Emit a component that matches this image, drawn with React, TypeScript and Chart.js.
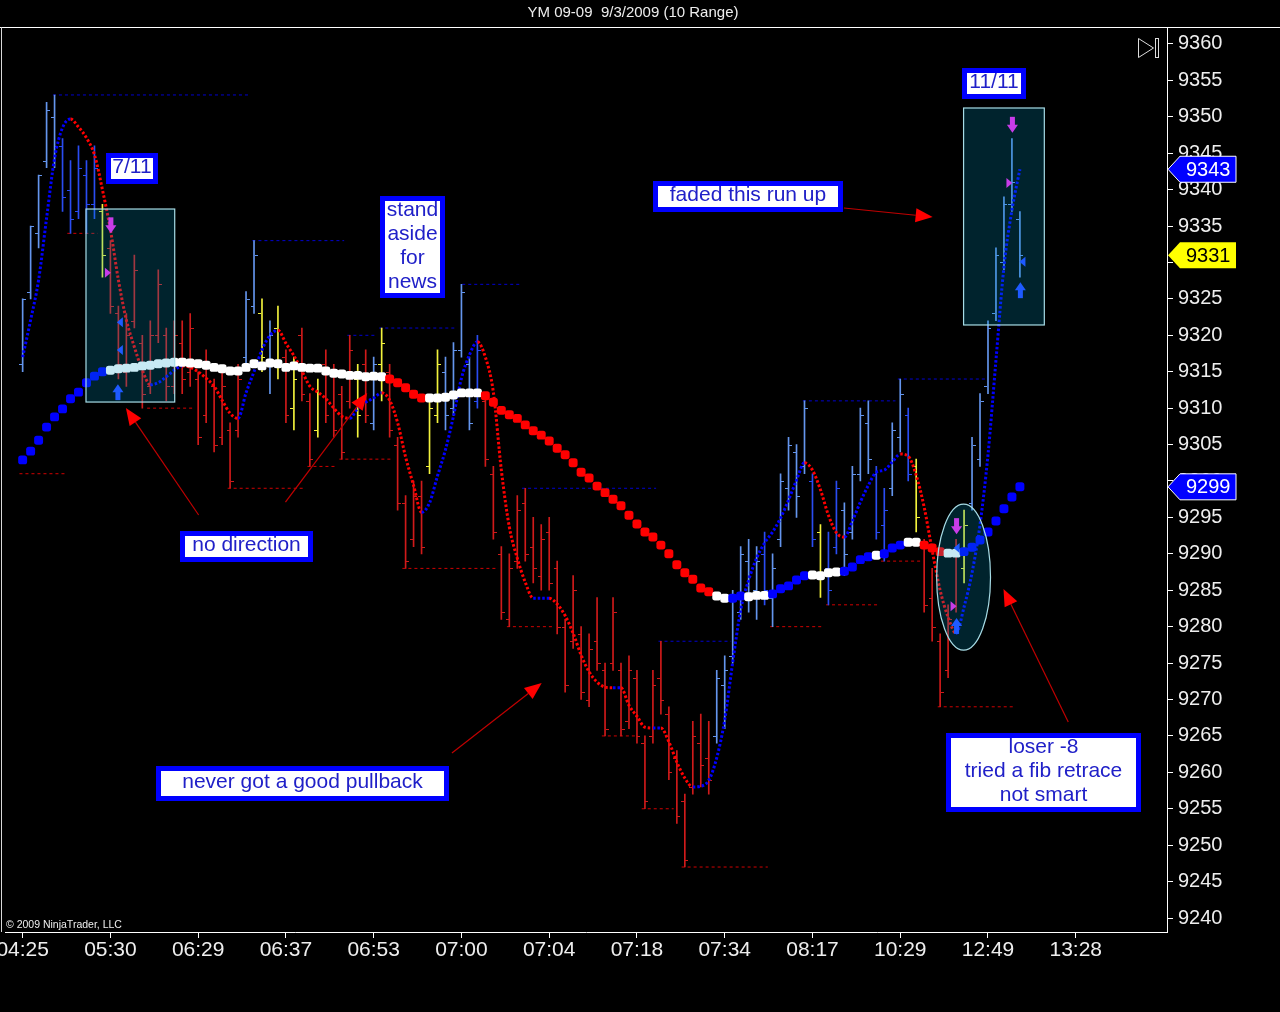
import React, { useEffect, useRef } from 'react';
import { Chart, registerables } from 'chart.js';

Chart.register(...registerables);

const FONT = '"Liberation Sans", Arial, sans-serif';
const chartTitle = 'YM 09-09  9/3/2009 (10 Range)';
const copyright = '\u00A9 2009 NinjaTrader, LLC';

// ---------- axes ----------
const xTickBars = [0, 11, 22, 33, 44, 55, 66, 77, 88, 99, 110, 121, 132];
const xTickLabels = ['04:25', '05:30', '06:29', '06:37', '06:53', '07:00', '07:04', '07:18', '07:34', '08:17', '10:29', '12:49', '13:28'];
const yTickValues = [9240, 9245, 9250, 9255, 9260, 9265, 9270, 9275, 9280, 9285, 9290, 9295, 9300, 9305, 9310, 9315, 9320, 9325, 9330, 9335, 9340, 9345, 9350, 9355, 9360];

// ---------- range bars (10 range) ----------
const barHigh = [
  9325, 9335, 9342, 9352, 9353, 9347, 9344, 9346, 9344, 9346,
  9338, 9333, 9324, 9323, 9331, 9320, 9322, 9329, 9321, 9322,
  9322, 9323, 9315, 9318, 9314, 9315, 9308, 9316, 9326, 9333,
  9325, 9322, 9324, 9318, 9317, 9321, 9312, 9314, 9318, 9316,
  9313, 9320, 9316, 9318, 9317, 9321, 9316, 9306, 9298, 9300,
  9300, 9311, 9318, 9317, 9319, 9327, 9317, 9320, 9312, 9302,
  9291, 9290, 9298, 9299, 9295, 9294, 9295, 9289, 9281, 9287,
  9280, 9279, 9284, 9275, 9284, 9275, 9276, 9274, 9265, 9274,
  9278, 9269, 9263, 9257, 9267, 9268, 9267, 9274, 9276, 9285,
  9291, 9292, 9291, 9293, 9290, 9301, 9306, 9305, 9311, 9301,
  9294, 9293, 9300, 9297, 9302, 9310, 9311, 9302, 9299, 9308,
  9314, 9310, 9303, 9292, 9288, 9279, 9283, 9292, 9296, 9306,
  9312, 9322, 9332, 9339, 9347, 9337,
];
const barLow = [
  9315, 9325, 9332, 9343, 9343, 9337, 9334, 9336, 9334, 9336,
  9328, 9323, 9314, 9313, 9321, 9310, 9312, 9319, 9311, 9312,
  9312, 9313, 9305, 9308, 9304, 9305, 9299, 9306, 9316, 9323,
  9315, 9312, 9314, 9308, 9307, 9311, 9302, 9306, 9308, 9306,
  9303, 9310, 9306, 9308, 9307, 9311, 9306, 9296, 9288, 9291,
  9290, 9301, 9308, 9307, 9309, 9317, 9307, 9310, 9302, 9292,
  9281, 9280, 9288, 9289, 9286, 9285, 9285, 9279, 9271, 9277,
  9270, 9269, 9274, 9265, 9274, 9265, 9266, 9264, 9255, 9264,
  9268, 9259, 9253, 9247, 9257, 9258, 9257, 9264, 9266, 9275,
  9281, 9282, 9281, 9283, 9280, 9291, 9296, 9295, 9301, 9291,
  9284, 9283, 9290, 9287, 9292, 9300, 9301, 9292, 9289, 9298,
  9304, 9300, 9293, 9282, 9278, 9269, 9273, 9282, 9286, 9296,
  9302, 9312, 9322, 9329, 9337, 9328,
];
const barOpen = [
  9316, 9326, 9334, 9344, 9350, 9346, 9340, 9337, 9342, 9338,
  9337, 9332, 9323, 9315, 9322, 9319, 9313, 9320, 9320, 9313,
  9319, 9315, 9314, 9309, 9313, 9306, 9307, 9307, 9317, 9324,
  9323, 9316, 9321, 9317, 9310, 9320, 9311, 9307, 9316, 9315,
  9312, 9311, 9314, 9316, 9308, 9316, 9315, 9305, 9297, 9292,
  9298, 9302, 9309, 9315, 9310, 9318, 9316, 9311, 9311, 9301,
  9290, 9281, 9289, 9297, 9291, 9287, 9293, 9288, 9280, 9278,
  9279, 9270, 9278, 9274, 9275, 9274, 9267, 9273, 9264, 9265,
  9273, 9268, 9262, 9256, 9258, 9264, 9262, 9265, 9272, 9276,
  9282, 9289, 9285, 9290, 9284, 9292, 9299, 9304, 9302, 9300,
  9293, 9288, 9291, 9296, 9293, 9301, 9308, 9301, 9294, 9299,
  9306, 9309, 9302, 9291, 9284, 9278, 9274, 9283, 9288, 9297,
  9303, 9313, 9323, 9330, 9338, 9336,
];
const barClose = [
  9325, 9335, 9342, 9351, 9346, 9339, 9336, 9343, 9338, 9343,
  9331, 9324, 9316, 9320, 9329, 9312, 9320, 9327, 9313, 9320,
  9314, 9321, 9306, 9316, 9305, 9313, 9300, 9314, 9325, 9331,
  9317, 9320, 9316, 9309, 9314, 9312, 9303, 9312, 9309, 9307,
  9304, 9318, 9309, 9309, 9316, 9319, 9307, 9297, 9289, 9298,
  9291, 9310, 9316, 9309, 9318, 9326, 9308, 9318, 9303, 9293,
  9282, 9288, 9296, 9290, 9288, 9292, 9286, 9280, 9272, 9285,
  9271, 9277, 9275, 9266, 9282, 9266, 9274, 9265, 9256, 9272,
  9270, 9260, 9254, 9248, 9265, 9261, 9259, 9273, 9274, 9284,
  9290, 9284, 9289, 9285, 9288, 9300, 9305, 9298, 9310, 9292,
  9287, 9285, 9299, 9290, 9301, 9309, 9303, 9293, 9296, 9307,
  9312, 9301, 9295, 9283, 9280, 9271, 9281, 9290, 9294, 9305,
  9311, 9321, 9331, 9338, 9341, 9331,
];
// L = light blue, D = blue, R = red, Y = yellow
const barColorCodes = (
  'LLLLL' + 'DDDDD' + 'Y' + 'RRRRRRRRRRRRRRRRR' + 'LL' + 'Y' + 'L' + 'Y' + 'R' + 'Y' + 'RR' + 'Y' +
  'RRRR' + 'Y' + 'R' + 'L' + 'Y' + 'RRRRR' + 'YY' + 'LLLL' + 'D' + 'RRRRRRRRRRRRRRRRRRRRRRRRRRRRR' +
  'LLLLLL' + 'D' + 'LLLLL' + 'D' + 'Y' + 'DD' + 'LLLL' + 'DD' + 'LL' + 'D' + 'Y' + 'RRRRR' + 'Y' + 'LLLLLLL'
).split('');

// ---------- fast (dotted) average ----------
const fastMA = [
  9317.0, 9322.1, 9327.6, 9336.1, 9344.3, 9348.5, 9349.7, 9348.6, 9347.1, 9344.8,
  9340.0, 9334.5, 9327.6, 9322.1, 9318.4, 9315.2, 9313.2, 9313.5, 9314.3, 9315.2,
  9315.8, 9315.6, 9315.0, 9314.1, 9313.0, 9311.1, 9309.3, 9308.6, 9312.1, 9315.0,
  9318.0, 9320.0, 9320.7, 9318.9, 9317.2, 9315.1, 9313.0, 9312.2, 9311.3, 9310.0,
  9308.9, 9308.6, 9310.0, 9310.8, 9311.4, 9312.1, 9311.1, 9308.0, 9303.3, 9299.4,
  9295.7, 9297.0, 9300.7, 9304.3, 9308.9, 9314.1, 9317.3, 9319.1, 9317.0, 9312.2,
  9301.5, 9293.7, 9289.4, 9286.1, 9283.9, 9283.9, 9283.9, 9283.1, 9281.5, 9279.1,
  9276.1, 9273.8, 9272.4, 9271.7, 9271.6, 9271.6, 9269.2, 9267.7, 9266.2, 9266.1,
  9266.1, 9264.2, 9261.4, 9259.2, 9258.0, 9258.1, 9258.9, 9262.0, 9267.2, 9275.1,
  9282.3, 9286.4, 9289.4, 9291.5, 9293.0, 9294.9, 9297.4, 9300.1, 9302.5, 9301.5,
  9298.8, 9295.3, 9292.9, 9292.3, 9294.5, 9297.1, 9299.4, 9301.2, 9301.5, 9302.6,
  9303.7, 9303.4, 9300.8, 9296.4, 9290.5, 9285.0, 9281.3, 9279.1, 9282.7, 9287.4,
  9294.0, 9303.6, 9316.6, 9329.4, 9337.2, 9342.8,
];

// ---------- slow (big dots) average ----------
const slowMA = [
  9302.9, 9304.1, 9305.6, 9307.4, 9308.8, 9309.9, 9311.3, 9312.2, 9313.5, 9314.4,
  9315.0, 9315.2, 9315.4, 9315.5, 9315.6, 9315.8, 9315.9, 9316.1, 9316.2, 9316.3,
  9316.3, 9316.2, 9316.1, 9315.9, 9315.6, 9315.4, 9315.1, 9315.1, 9315.6, 9316.1,
  9315.8, 9316.2, 9316.1, 9315.6, 9315.8, 9315.6, 9315.5, 9315.5, 9315.1, 9314.8,
  9314.7, 9314.5, 9314.5, 9314.3, 9314.4, 9314.3, 9314.0, 9313.5, 9312.8, 9311.9,
  9311.4, 9311.4, 9311.4, 9311.5, 9311.8, 9312.1, 9312.1, 9312.1, 9311.7, 9310.8,
  9309.7, 9309.1, 9308.6, 9307.7, 9306.9, 9306.3, 9305.5, 9304.5, 9303.6, 9302.5,
  9301.2, 9300.4, 9299.3, 9298.4, 9297.5, 9296.6, 9295.3, 9294.1, 9293.0, 9292.3,
  9291.2, 9290.0, 9288.5, 9287.4, 9286.5, 9285.3, 9284.8, 9284.2, 9283.9, 9283.9,
  9284.2, 9284.1, 9284.3, 9284.3, 9284.5, 9285.2, 9285.6, 9286.4, 9287.0, 9287.1,
  9287.0, 9287.4, 9287.5, 9287.6, 9288.2, 9289.2, 9289.6, 9289.8, 9290.0, 9290.8,
  9291.2, 9291.6, 9291.6, 9291.2, 9290.8, 9290.3, 9290.1, 9290.1, 9290.3, 9290.9,
  9291.9, 9293.0, 9294.5, 9296.2, 9297.8, 9299.2,
];
// B = blue, W = white, R = red
const slowColorCodes = (
  'BBBBBBBBBBB' + 'WWWWWWWWWWWWWWWWWWWWWWWWWWWWWWWWWWW' + 'RRRRR' + 'WWWWWWW' +
  'RRRRRRRRRRRRRRRRRRRRRRRRRRRRR' + 'WW' + 'BB' + 'WWW' + 'BBBBB' + 'WWWW' + 'BBBB' + 'W' + 'BBB' +
  'WW' + 'RRR' + 'WW' + 'BBBBBBBB'
).split('');

// ---------- swing high / low lines: [fromBar, toBar, price] ----------
const swingHighs = [
  [3.8, 28.4, 9353], [28.8, 40.3, 9333], [40.7, 44.4, 9320], [44.7, 54.4, 9321],
  [55.1, 62.4, 9327], [62.6, 79.4, 9299], [79.7, 88.8, 9278], [97.8, 109.4, 9311],
  [109.7, 120.7, 9314],
];
const swingLows = [
  [-0.4, 5.3, 9301], [5.6, 9.4, 9334], [15.6, 21.6, 9310], [25.7, 35.4, 9299],
  [35.7, 39.4, 9302], [39.7, 46.4, 9303], [47.6, 59.4, 9288], [60.7, 66.4, 9280],
  [72.6, 76.9, 9265], [77.6, 81.6, 9255], [82.6, 93.4, 9247], [93.7, 100.4, 9280],
  [100.7, 107.4, 9283], [107.6, 112.6, 9289], [114.7, 124.4, 9269],
];

// ---------- trade markers: [bar, price] ----------
const shortArrows = [[11.06, 9335.1], [124.06, 9348.9], [117.06, 9293.8]];
const entryMarks = [[10.56, 9328.6], [123.56, 9340.9], [116.56, 9282.8]];
const exitMarks = [[12.31, 9321.8], [12.31, 9318.0], [125.44, 9330.1], [117.19, 9290.8]];
const longArrows = [[11.94, 9312.2], [125.06, 9326.2], [117.06, 9280.1]];

// ---------- drawn objects (anchored in bar / price space) ----------
const tradeRects = [
  { b0: 7.94, b1: 19.06, p0: 9337.34, p1: 9310.84 },
  { b0: 117.94, b1: 128.06, p0: 9351.21, p1: 9321.42 },
];
const tradeEllipse = { b: 117.94, p: 9286.8, rb: 3.375, rp: 10.02 };
const noteBoxes = [
  { lines: ['7/11'], b: 13.69, p: 9342.97, w: 52, h: 31 },
  { lines: ['stand', 'aside', 'for', 'news'], b: 48.88, p: 9332.13, w: 65, h: 102 },
  { lines: ['faded this run up'], b: 90.94, p: 9339.06, w: 190, h: 31 },
  { lines: ['11/11'], b: 121.81, p: 9354.51, w: 64, h: 31 },
  { lines: ['no direction'], b: 28.0, p: 9291.07, w: 133, h: 31 },
  { lines: ['never got a good pullback'], b: 35.06, p: 9258.53, w: 293, h: 35 },
  { lines: ['loser -8', 'tried a fib retrace', 'not smart'], b: 127.94, p: 9260.04, w: 195, h: 79 },
];
const redArrows = [
  { from: [22.06, 9295.33], to: [12.94, 9310.02] },
  { from: [32.94, 9297.11], to: [43.19, 9312.08] },
  { from: [53.81, 9262.65], to: [65.06, 9272.26] },
  { from: [102.94, 9337.48], to: [114.06, 9336.25] },
  { from: [131.06, 9266.91], to: [122.94, 9285.17] },
];

const BAR_COLORS: any = { L: '#6495ED', D: '#2A4CF2', R: '#D01A1A', Y: '#F2F23C' };
const SLOW_COLORS: any = { B: '#0000FF', W: '#FFFFFF', R: '#FF0000' };

function lineData(list: number[][]) {
  const out: any[] = [];
  list.forEach(([a, b, p]) => {
    out.push({ x: a, y: p }, { x: b, y: p }, { x: b, y: null });
  });
  return out;
}

const overlayPlugin = {
  id: 'ntOverlay',
  afterDatasetDraw(chart: any, args: any) {
    if (args.meta.type !== 'bar') return;
    const { ctx } = chart;
    const x = chart.scales.x;
    const y = chart.scales.y;
    ctx.save();
    for (let i = 0; i < barHigh.length; i++) {
      const px = Math.floor(x.getPixelForValue(i));
      ctx.fillStyle = BAR_COLORS[barColorCodes[i]];
      ctx.fillRect(px - 3, Math.round(y.getPixelForValue(barOpen[i])), 3, 1);
      ctx.fillRect(px + 1, Math.round(y.getPixelForValue(barClose[i])), 3, 1);
    }
    ctx.restore();
  },
  afterDatasetsDraw(chart: any) {
    const { ctx } = chart;
    const x = chart.scales.x;
    const y = chart.scales.y;
    const P = (b: number, p: number) => [x.getPixelForValue(b), y.getPixelForValue(p)];
    ctx.save();

    // trade rectangles + ellipse
    ctx.fillStyle = 'rgba(0,160,205,0.22)';
    ctx.strokeStyle = '#A6DCE6';
    ctx.lineWidth = 1.2;
    tradeRects.forEach((r) => {
      const [x0, y0] = P(r.b0, r.p0);
      const [x1, y1] = P(r.b1, r.p1);
      ctx.fillRect(x0, y0, x1 - x0, y1 - y0);
      ctx.strokeRect(x0, y0, x1 - x0, y1 - y0);
    });
    {
      const [cx, cy] = P(tradeEllipse.b, tradeEllipse.p);
      const rx = x.getPixelForValue(tradeEllipse.b + tradeEllipse.rb) - cx;
      const ry = cy - y.getPixelForValue(tradeEllipse.p + tradeEllipse.rp);
      ctx.beginPath();
      ctx.ellipse(cx, cy, rx, ry, 0, 0, Math.PI * 2);
      ctx.fill();
      ctx.stroke();
    }

    // trade markers
    const MAG = '#C83CE8';
    const BLU = '#1E5AFF';
    shortArrows.forEach(([b, p]) => {
      const [cx, cy] = P(b, p);
      ctx.fillStyle = MAG;
      ctx.fillRect(cx - 2.5, cy - 8, 5, 9);
      ctx.beginPath();
      ctx.moveTo(cx - 5.5, cy);
      ctx.lineTo(cx + 5.5, cy);
      ctx.lineTo(cx, cy + 8);
      ctx.closePath();
      ctx.fill();
    });
    longArrows.forEach(([b, p]) => {
      const [cx, cy] = P(b, p);
      ctx.fillStyle = BLU;
      ctx.fillRect(cx - 2.5, cy - 1, 5, 9);
      ctx.beginPath();
      ctx.moveTo(cx - 5.5, cy);
      ctx.lineTo(cx + 5.5, cy);
      ctx.lineTo(cx, cy - 8);
      ctx.closePath();
      ctx.fill();
    });
    entryMarks.forEach(([b, p]) => {
      const [cx, cy] = P(b, p);
      ctx.fillStyle = MAG;
      ctx.beginPath();
      ctx.moveTo(cx - 2, cy - 5);
      ctx.lineTo(cx + 4, cy);
      ctx.lineTo(cx - 2, cy + 5);
      ctx.closePath();
      ctx.fill();
    });
    exitMarks.forEach(([b, p]) => {
      const [cx, cy] = P(b, p);
      ctx.fillStyle = BLU;
      ctx.beginPath();
      ctx.moveTo(cx + 2, cy - 5);
      ctx.lineTo(cx - 4, cy);
      ctx.lineTo(cx + 2, cy + 5);
      ctx.closePath();
      ctx.fill();
    });

    // red arrows
    redArrows.forEach((a) => {
      const [x0, y0] = P(a.from[0], a.from[1]);
      const [x1, y1] = P(a.to[0], a.to[1]);
      const ang = Math.atan2(y1 - y0, x1 - x0);
      const hl = 17;
      const hw = 7;
      const bx = x1 - Math.cos(ang) * hl;
      const by = y1 - Math.sin(ang) * hl;
      ctx.strokeStyle = '#C00000';
      ctx.lineWidth = 1.2;
      ctx.beginPath();
      ctx.moveTo(x0, y0);
      ctx.lineTo(bx, by);
      ctx.stroke();
      ctx.fillStyle = '#FF0000';
      ctx.beginPath();
      ctx.moveTo(x1, y1);
      ctx.lineTo(bx + Math.sin(ang) * hw, by - Math.cos(ang) * hw);
      ctx.lineTo(bx - Math.sin(ang) * hw, by + Math.cos(ang) * hw);
      ctx.closePath();
      ctx.fill();
    });

    // text boxes
    ctx.font = '21px ' + FONT;
    ctx.textAlign = 'center';
    ctx.textBaseline = 'middle';
    noteBoxes.forEach((n) => {
      const [cx, cy] = P(n.b, n.p);
      const left = Math.round(cx - n.w / 2);
      const top = Math.round(cy - n.h / 2);
      ctx.fillStyle = '#0000FF';
      ctx.fillRect(left, top, n.w, n.h);
      ctx.fillStyle = '#FFFFFF';
      ctx.fillRect(left + 5, top + 5, n.w - 10, n.h - 10);
      ctx.fillStyle = '#2020C8';
      const lh = 24;
      n.lines.forEach((t, k) => {
        ctx.fillText(t, left + n.w / 2, top + n.h / 2 + (k - (n.lines.length - 1) / 2) * lh - 1);
      });
    });

    // copyright
    ctx.font = '10.5px ' + FONT;
    ctx.textAlign = 'left';
    ctx.fillStyle = '#EEEEEE';
    ctx.fillText(copyright, 6, chart.chartArea.bottom - 7);
    ctx.restore();
  },
  afterDraw(chart: any) {
    const { ctx, chartArea } = chart;
    const y = chart.scales.y;
    ctx.save();
    // frame
    ctx.fillStyle = '#FFFFFF';
    ctx.fillRect(0, chartArea.top, chart.width, 1);
    ctx.fillStyle = '#D8D8D8';
    ctx.fillRect(1, chartArea.top, 1, chartArea.bottom - chartArea.top);
    // title
    ctx.fillStyle = '#EEEEEE';
    ctx.font = '15px ' + FONT;
    ctx.textAlign = 'center';
    ctx.textBaseline = 'middle';
    ctx.fillText(chartTitle, 633, 13);
    // scroll icon
    const ix = chartArea.right - 29;
    const iy = chartArea.top + 10;
    ctx.strokeStyle = '#DDDDDD';
    ctx.lineWidth = 1;
    ctx.beginPath();
    ctx.moveTo(ix + 0.5, iy + 1.5);
    ctx.lineTo(ix + 15.5, iy + 11);
    ctx.lineTo(ix + 0.5, iy + 20.5);
    ctx.closePath();
    ctx.stroke();
    ctx.strokeRect(ix + 17.5, iy + 1.5, 3, 19);
    // price markers on axis
    const marks = [
      { v: fastMA[fastMA.length - 1], bg: '#0000FF', fg: '#FFFFFF', bd: '#FFFFFF' },
      { v: barClose[barClose.length - 1], bg: '#FFFF00', fg: '#000000', bd: null },
      { v: slowMA[slowMA.length - 1], bg: '#0000FF', fg: '#FFFFFF', bd: '#FFFFFF' },
    ];
    ctx.font = '20px ' + FONT;
    ctx.textAlign = 'left';
    marks.forEach((m) => {
      const yy = y.getPixelForValue(m.v);
      const xl = chartArea.right + 1;
      ctx.beginPath();
      ctx.moveTo(xl, yy);
      ctx.lineTo(xl + 12, yy - 13);
      ctx.lineTo(xl + 68, yy - 13);
      ctx.lineTo(xl + 68, yy + 13);
      ctx.lineTo(xl + 12, yy + 13);
      ctx.closePath();
      ctx.fillStyle = m.bg;
      ctx.fill();
      if (m.bd) {
        ctx.strokeStyle = m.bd;
        ctx.lineWidth = 1;
        ctx.stroke();
      }
      ctx.fillStyle = m.fg;
      ctx.fillText(String(Math.round(m.v)), xl + 18, yy + 1);
    });
    ctx.restore();
  },
};

export default function App() {
  const ref = useRef<HTMLCanvasElement | null>(null);
  useEffect(() => {
    if (!ref.current) return;
    const chart = new Chart(ref.current, {
      type: 'bar',
      data: {
        datasets: [
          {
            type: 'line',
            data: lineData(swingHighs),
            borderColor: '#0000D0',
            borderWidth: 1,
            borderDash: [3, 3],
            pointRadius: 0,
            order: 4,
          },
          {
            type: 'line',
            data: lineData(swingLows),
            borderColor: '#D00000',
            borderWidth: 1,
            borderDash: [3, 3],
            pointRadius: 0,
            order: 3,
          },
          {
            type: 'bar',
            data: barHigh.map((h, i) => ({ x: i, y: [barLow[i], h] })),
            backgroundColor: barColorCodes.map((c) => BAR_COLORS[c]),
            borderWidth: 0,
            barThickness: 1,
            grouped: false,
            order: 2,
          },
          {
            type: 'line',
            data: fastMA.map((v, i) => ({ x: i, y: v })),
            borderWidth: 3,
            borderDash: [2.5, 2],
            borderColor: '#0000FF',
            cubicInterpolationMode: 'monotone',
            pointRadius: 0,
            segment: {
              borderColor: (c: any) => (c.p1.parsed.y >= c.p0.parsed.y ? '#0000FF' : '#FF0000'),
            },
            order: 1,
          },
          {
            type: 'line',
            data: slowMA.map((v, i) => ({ x: i, y: v })),
            showLine: false,
            pointStyle: 'rectRounded',
            pointRadius: 5.2,
            pointBorderWidth: 0,
            pointBackgroundColor: slowColorCodes.map((c) => SLOW_COLORS[c]),
            pointBorderColor: slowColorCodes.map((c) => SLOW_COLORS[c]),
            order: 0,
          },
        ] as any,
      },
      options: {
        animation: false,
        responsive: false,
        events: [],
        layout: { padding: { left: 2, top: 27, right: 0, bottom: 0 } },
        plugins: {
          legend: { display: false },
          tooltip: { enabled: false },
          title: { display: false },
        },
        scales: {
          x: {
            type: 'linear',
            min: -2.1875,
            max: 143.4375,
            offset: false,
            grid: { offset: false, drawOnChartArea: false, drawTicks: true, tickLength: 6, tickColor: '#FFFFFF', color: '#FFFFFF' },
            border: { display: true, color: '#FFFFFF' },
            ticks: {
              color: '#EEEEEE',
              font: { family: FONT, size: 21 },
              padding: 0,
              maxRotation: 0,
              autoSkip: false,
              callback: (_v: any, idx: number) => xTickLabels[idx],
            },
            afterBuildTicks: (s: any) => {
              s.ticks = xTickBars.map((v) => ({ value: v }));
            },
            afterFit: (s: any) => {
              s.height = 80;
              s.paddingLeft = 0;
              s.paddingRight = 0;
            },
          },
          y: {
            type: 'linear',
            position: 'right',
            min: 9238.08,
            max: 9362.33,
            grid: { offset: false, drawOnChartArea: false, drawTicks: true, tickLength: 6, tickColor: '#FFFFFF', color: '#FFFFFF' },
            border: { display: true, color: '#FFFFFF' },
            ticks: {
              color: '#EEEEEE',
              font: { family: FONT, size: 20 },
              padding: 5,
              autoSkip: false,
              callback: (v: any) => String(v),
            },
            afterBuildTicks: (s: any) => {
              s.ticks = yTickValues.map((v) => ({ value: v }));
            },
            afterFit: (s: any) => {
              s.width = 113;
            },
          },
        },
      } as any,
      plugins: [overlayPlugin],
    });
    return () => chart.destroy();
  }, []);
  return (
    <div style={{ position: 'fixed', left: 0, top: 0, width: 1280, height: 1012, background: '#000' }}>
      <canvas ref={ref} width={1280} height={1012} style={{ display: 'block', width: 1280, height: 1012 }} />
    </div>
  );
}
